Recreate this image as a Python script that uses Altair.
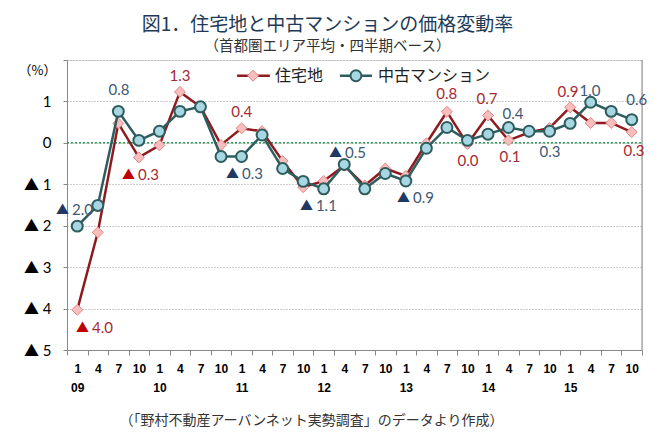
import json
import altair as alt
import pandas as pd

# ---------------- data ----------------
years = ["09", "10", "11", "12", "13", "14", "15"]
months = ["1", "4", "7", "10"]
series_names = ["住宅地", "中古マンション"]

land = [-4.03, -2.16, 0.47, -0.35, -0.06, 1.23, 0.87, -0.05,
        0.35, 0.28, -0.44, -1.07, -0.92, -0.55, -1.03, -0.62,
        -0.80, -0.01, 0.75, -0.03, 0.66, 0.06, 0.25, 0.36,
        0.86, 0.48, 0.48, 0.26]
condo = [-2.01, -1.51, 0.76, 0.06, 0.28, 0.76, 0.87, -0.33,
         -0.33, 0.19, -0.62, -0.93, -1.11, -0.52, -1.11, -0.74,
         -0.92, -0.13, 0.37, 0.06, 0.21, 0.37, 0.28, 0.28,
         0.47, 0.98, 0.76, 0.56]

# data labels: text, anchor quarter position, anchor value, negative flag
land_lab_text = ["4.0", "0.3", "1.3", "0.4", "0.8", "0.0", "0.7", "0.1", "0.9", "0.3"]
land_lab_q = [0.72, 2.96, 5.0, 8.01, 17.99, 19.03, 19.95, 21.07, 23.9, 27.11]
land_lab_v = [-4.48, -0.765, 1.62, 0.74, 1.17, -0.44, 1.06, -0.35, 1.22, -0.19]
land_lab_neg = [True, True, False, False, False, False, False, False, False, False]

condo_lab_text = ["2.0", "0.8", "0.3", "1.1", "0.5", "0.9", "0.4", "0.3", "1.0", "0.6"]
condo_lab_q = [-0.26, 2.03, 8.02, 11.62, 13.04, 16.35, 21.22, 23.02, 24.97, 27.24]
condo_lab_v = [-1.61, 1.27, -0.74, -1.53, -0.24, -1.33, 0.70, -0.23, 1.245, 1.03]
condo_lab_neg = [True, False, True, True, True, True, False, False, False, False]

# legend placement (in chart units)
legend_line_q = [(7.78, 9.38), (12.79, 14.35)]
legend_mark_q = [8.56, 13.57]
legend_text_q = [9.63, 14.64]
legend_v = 1.62

n = len(land)

# ---------------- styles ----------------
LAND_LINE = "#8E1B1F"
LAND_FILL = "#F8BEBE"
LAND_PSTROKE = "#E08585"
LAND_TEXT = "#A52A2F"
LAND_TRI = "#C00000"
CONDO_LINE = "#2F5D5E"
CONDO_FILL = "#A7D7E2"
CONDO_TEXT = "#3F5873"
CONDO_TRI = "#1F3864"
NUM_FONT = "Lato, 'Noto Sans CJK JP'"
JP_FONT = "Noto Sans CJK JP"

W, H = 575, 290
band_px = W / n

months_js = json.dumps(months)
years_js = json.dumps(years)
x_label_expr = (
    f"datum.value > {n - 1} ? '' : "
    f"(floor(datum.value + 0.5) % 4 == 0 ? "
    f"[{months_js}[0], {years_js}[floor((datum.value + 0.5) / 4)]] : "
    f"{months_js}[floor(datum.value + 0.5) % 4])"
)

x_enc = alt.X(
    "q:Q",
    scale=alt.Scale(domain=[-0.5, n - 0.5], nice=False, zero=False),
    axis=alt.Axis(
        values=[i - 0.5 for i in range(n + 1)],
        labelExpr=x_label_expr,
        labelOffset=band_px / 2,
        labelAlign="center",
        labelBaseline="top",
        labelFlush=False,
        labelOverlap=False,
        labelFont="Liberation Sans",
        labelFontWeight="bold",
        labelFontSize=12,
        labelColor="#000",
        labelLineHeight=19,
        labelPadding=8,
        tickSize=5,
        tickColor="#888",
        domainColor="#888",
        grid=False,
        title="（「野村不動産アーバンネット実勢調査」のデータより作成）",
        titleFont=JP_FONT,
        titleFontSize=14,
        titleFontWeight="normal",
        titleColor="#333",
        titleX=244,
        titleY=70,
        titleAlign="center",
        titleBaseline="middle",
        titleAnchor="start",
    ),
)

y_enc = alt.Y(
    "v:Q",
    scale=alt.Scale(domain=[-5, 2], nice=False, zero=False),
    axis=alt.Axis(
        values=[-5, -4, -3, -2, -1, 0, 1, 2],
        labelExpr="datum.value == 2 ? '' : (datum.value < 0 ? '▲ ' + abs(datum.value) : '' + datum.value)",
        labelFont=NUM_FONT,
        labelFontSize=15,
        labelColor="#000",
        labelPadding=12,
        tickSize=4,
        tickColor="#888",
        domainColor="#888",
        grid=True,
        gridColor="#9a9a9a",
        gridDash=[1, 2],
        title="（%）",
        titleAngle=0,
        titleFont=JP_FONT,
        titleFontSize=13,
        titleFontWeight="normal",
        titleColor="#000",
        titleX=-30,
        titleY=10,
        titleAlign="center",
        titleBaseline="middle",
    ),
)

q = list(range(n))
land_df = pd.DataFrame({"q": q, "v": land})
condo_df = pd.DataFrame({"q": q, "v": condo})

land_lab = pd.DataFrame({"t": land_lab_text, "q": land_lab_q, "v": land_lab_v, "neg": land_lab_neg})
condo_lab = pd.DataFrame({"t": condo_lab_text, "q": condo_lab_q, "v": condo_lab_v, "neg": condo_lab_neg})

base_frame = pd.DataFrame({"q": [n - 0.5], "v": [-5], "v2": [2]})
zero_df = pd.DataFrame({"q": [-0.5], "q2": [n - 0.5], "v": [0]})

# frame: grid via axis, right border
frame = alt.Chart(base_frame).mark_rule(color="#888", strokeWidth=1).encode(
    x=x_enc, y=y_enc, y2="v2:Q"
)
zero_line = alt.Chart(zero_df).mark_rule(
    color="#2E9A5A", strokeWidth=1.5, strokeDash=[2, 2]
).encode(x=x_enc, x2="q2:Q", y=y_enc)

land_line = alt.Chart(land_df).mark_line(color=LAND_LINE, strokeWidth=2.5).encode(x=x_enc, y=y_enc)
land_pts = alt.Chart(land_df).mark_point(
    shape="diamond", size=120, filled=True, fill=LAND_FILL, stroke=LAND_PSTROKE,
    strokeWidth=1, opacity=1
).encode(x=x_enc, y=y_enc)
condo_line = alt.Chart(condo_df).mark_line(color=CONDO_LINE, strokeWidth=2.5).encode(x=x_enc, y=y_enc)
condo_pts = alt.Chart(condo_df).mark_point(
    shape="circle", size=120, filled=True, fill=CONDO_FILL, stroke=CONDO_LINE,
    strokeWidth=2, opacity=1
).encode(x=x_enc, y=y_enc)


def label_layers(df, text_color, tri_color):
    pos = alt.Chart(df).transform_filter("!datum.neg").mark_text(
        font=NUM_FONT, fontSize=15, color=text_color, align="center", baseline="middle"
    ).encode(x=x_enc, y=y_enc, text="t:N")
    neg = alt.Chart(df).transform_filter("datum.neg").mark_text(
        font=NUM_FONT, fontSize=15, color=text_color, align="left", baseline="middle"
    ).encode(x=x_enc, y=y_enc, text="t:N")
    tri = alt.Chart(df).transform_filter("datum.neg").mark_text(
        font=JP_FONT, fontSize=13, color=tri_color, align="right", baseline="middle", dx=-3
    ).encode(x=x_enc, y=y_enc, text=alt.value("▲"))
    return [pos, neg, tri]


# legend
leg_line_df = pd.DataFrame({
    "q": [legend_line_q[0][0], legend_line_q[1][0]],
    "q2": [legend_line_q[0][1], legend_line_q[1][1]],
    "v": [legend_v, legend_v],
    "s": series_names,
})
leg_lines = alt.Chart(leg_line_df).mark_rule(strokeWidth=2.5).encode(
    x=x_enc, x2="q2:Q", y=y_enc,
    color=alt.Color("s:N", scale=alt.Scale(domain=series_names, range=[LAND_LINE, CONDO_LINE]), legend=None),
)
leg_land_pt = alt.Chart(pd.DataFrame({"q": [legend_mark_q[0]], "v": [legend_v]})).mark_point(
    shape="diamond", size=120, filled=True, fill=LAND_FILL, stroke=LAND_PSTROKE, strokeWidth=1, opacity=1
).encode(x=x_enc, y=y_enc)
leg_condo_pt = alt.Chart(pd.DataFrame({"q": [legend_mark_q[1]], "v": [legend_v]})).mark_point(
    shape="circle", size=120, filled=True, fill=CONDO_FILL, stroke=CONDO_LINE, strokeWidth=2, opacity=1
).encode(x=x_enc, y=y_enc)
leg_text = alt.Chart(pd.DataFrame({"q": legend_text_q, "v": [legend_v, legend_v], "s": series_names})).mark_text(
    font=JP_FONT, fontSize=16, color="#222", align="left", baseline="middle"
).encode(x=x_enc, y=y_enc, text="s:N")

layers = [frame, zero_line, land_line, land_pts, condo_line, condo_pts]
layers += label_layers(land_lab, LAND_TEXT, LAND_TRI)
layers += label_layers(condo_lab, CONDO_TEXT, CONDO_TRI)
layers += [leg_lines, leg_land_pt, leg_condo_pt, leg_text]

chart = alt.layer(*layers).properties(
    width=W,
    height=H,
    autosize=alt.AutoSizeParams(type="none"),
    padding={"left": 59, "top": 52, "right": 20, "bottom": 80},
    title=alt.TitleParams(
        text="図1．住宅地と中古マンションの価格変動率",
        subtitle="（首都圏エリア平均・四半期ベース）",
        anchor="middle",
        dx=-27,
        font=JP_FONT,
        fontSize=19,
        fontWeight="normal",
        color="#1E3A56",
        subtitleFont=JP_FONT,
        subtitleFontSize=14.5,
        subtitleColor="#333",
        subtitlePadding=5,
        offset=6,
    ),
).configure_view(stroke=None).configure(background="white")

chart.save("out.html", embed_options={"renderer": "svg", "actions": False})
